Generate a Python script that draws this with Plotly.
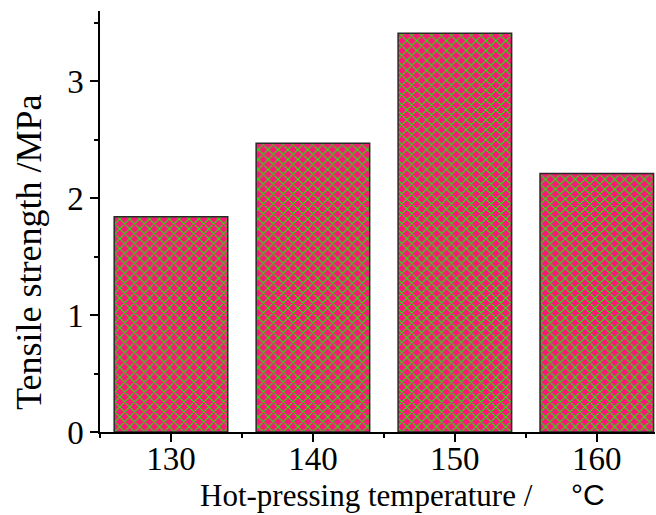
import plotly.graph_objects as go

categories = ["130", "140", "150", "160"]
strength = [1.84, 2.47, 3.41, 2.21]
y_ticks = [0, 1, 2, 3]

xpos = list(range(len(categories)))

fig = go.Figure()
fig.add_trace(go.Bar(
    x=xpos, y=strength, width=0.8,
    marker=dict(
        color="#ff1478",
        line=dict(color="#2a2a2a", width=1.5),
        pattern=dict(shape="x", fgcolor="#00ff00", bgcolor="#ff1478",
                     size=7, solidity=0.28, fillmode="replace"),
    ),
    showlegend=False,
))

font_serif = "Liberation Serif, Times New Roman, serif"
L, T, R, B = 100, 11, 1, 83
W, H = 656, 515
pw = W - L - R
ph = H - T - B

fig.update_layout(
    width=W, height=H,
    margin=dict(l=L, r=R, t=T, b=B, pad=0),
    paper_bgcolor="white", plot_bgcolor="white",
    font=dict(family=font_serif, size=32, color="black"),
    bargap=0.2,
    xaxis=dict(
        range=[-0.5, 3.41], tickvals=xpos, ticktext=categories,
        showline=True, linecolor="black", linewidth=1.5,
        ticks="outside", ticklen=8, tickwidth=1.5, tickcolor="black",
        showgrid=False, zeroline=False, ticklabelstandoff=-11,
        tickfont=dict(family=font_serif, size=33),
        minor=dict(tickvals=[-0.5, 0.5, 1.5, 2.5], ticks="outside", ticklen=4,
                   tickwidth=1.5, tickcolor="black", showgrid=False),
    ),
    yaxis=dict(
        range=[0, 3.6], tickvals=y_ticks,
        showline=True, linecolor="black", linewidth=1.5,
        ticks="outside", ticklen=8, tickwidth=1.5, tickcolor="black",
        showgrid=False, zeroline=False,
        tickfont=dict(family=font_serif, size=33),
        minor=dict(dtick=0.5, ticks="outside", ticklen=4, tickwidth=1.5,
                   tickcolor="black", showgrid=False),
    ),
    annotations=[
        dict(text="Tensile strength /MPa", textangle=-90,
             xref="paper", yref="paper",
             x=(29 - L) / pw, y=(H - B - 253) / ph,
             xanchor="center", yanchor="middle", showarrow=False,
             font=dict(family=font_serif, size=36)),
        dict(text="Hot-pressing temperature /",
             xref="paper", yref="paper",
             x=(198 - L) / pw, y=(H - B - 495) / ph,
             xanchor="left", yanchor="middle", showarrow=False,
             font=dict(family=font_serif, size=31)),
        dict(text="°C",
             xref="paper", yref="paper",
             x=(588 - L) / pw, y=(H - B - 494) / ph,
             xanchor="center", yanchor="middle", showarrow=False,
             font=dict(family="Liberation Sans, Arial, sans-serif", size=30)),
    ],
)

fig.write_html(
    "out.html",
    config={"displayModeBar": False},
    post_script="document.body.style.margin='0';document.body.style.overflow='hidden';",
)
